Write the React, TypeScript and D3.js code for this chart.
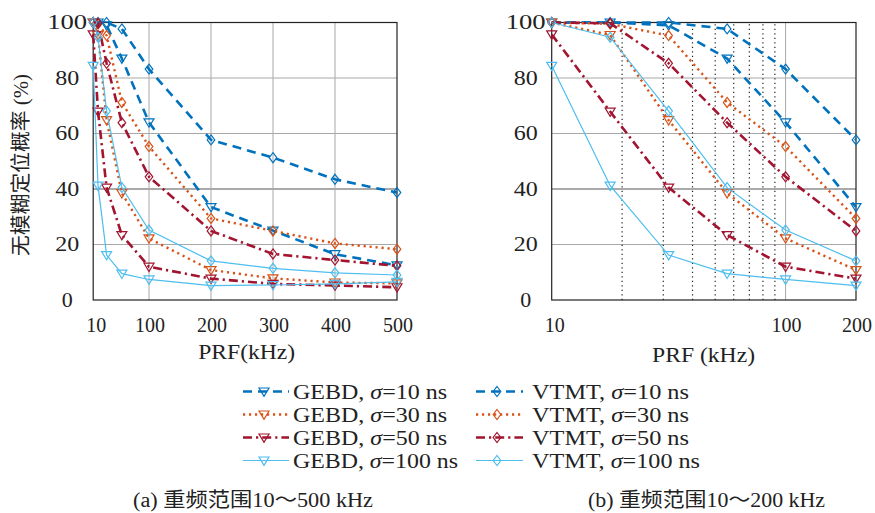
import React from "react";
import * as d3 from "d3";

const xVals = [10, 17.78, 31.62, 56.23, 100, 200, 300, 400, 500];
const gebd10 = [100, 100, 99, 87, 64, 33.5, 25, 16.5, 12.5];
const vtmt10 = [100, 100, 100, 97.7, 83.2, 57.7, 51.3, 43.5, 38.7];
const gebd30 = [100, 95.5, 64.8, 38.5, 22.2, 10.8, 7.8, 6.3, 6];
const vtmt30 = [100, 99.5, 95.3, 71.2, 55.3, 29.4, 24.9, 20.4, 18.3];
const gebd50 = [95.7, 67.9, 40.5, 23.4, 12, 7.7, 5.8, 5.2, 4.6];
const vtmt50 = [100, 99.7, 85.3, 63.9, 44.4, 24.9, 16.6, 14.4, 12.3];
const gebd100 = [84.4, 41.2, 16.2, 9.5, 7.4, 5.2, 5.4, 5.8, 6.5];
const vtmt100 = [100, 94.7, 68.1, 40.5, 25.2, 14.1, 11.4, 9.8, 9];

const yTicks = [0, 20, 40, 60, 80, 100];
const leftXTicks = [10, 100, 200, 300, 400, 500];
const rightXTicks = [10, 100, 200];
const rightMinor = [20, 30, 40, 50, 60, 70, 80, 90];

const sigmas = [10, 30, 50, 100];
const colors = ["#0072BD", "#D95319", "#A2142F", "#4DBEEE"];
const dashes = ["9,6", "2.2,3.8", "9,4,2.2,4", ""];
const widths = [2.6, 2.4, 2.6, 1.2];

const series = [
  { name: "GEBD", sigma: 0, marker: "tri", values: gebd10 },
  { name: "VTMT", sigma: 0, marker: "dia", values: vtmt10 },
  { name: "GEBD", sigma: 1, marker: "tri", values: gebd30 },
  { name: "VTMT", sigma: 1, marker: "dia", values: vtmt30 },
  { name: "GEBD", sigma: 2, marker: "tri", values: gebd50 },
  { name: "VTMT", sigma: 2, marker: "dia", values: vtmt50 },
  { name: "GEBD", sigma: 3, marker: "tri", values: gebd100 },
  { name: "VTMT", sigma: 3, marker: "dia", values: vtmt100 },
];

const FONT_STYLE = { fontFamily: "Liberation Serif, Noto Sans CJK SC, serif" };

function Marker({ type, x, y, color }: { type: string; x: number; y: number; color: string }) {
  if (type === "tri") {
    const p = `M${x - 5},${y - 3.5} L${x + 5},${y - 3.5} L${x},${y + 4.8} Z`;
    return <path d={p} fill="none" stroke={color} strokeWidth={1.2} />;
  }
  const p = `M${x},${y - 5} L${x + 3.8},${y} L${x},${y + 5} L${x - 3.8},${y} Z`;
  return <path d={p} fill="none" stroke={color} strokeWidth={1.2} />;
}

function Panel({ xScale, xMax, left }: { xScale: any; xMax: number; left: boolean }) {
  const y = d3.scaleLinear().domain([0, 100]).range([300, 22.5]);
  const [x0, x1] = xScale.range();
  const line = d3
    .line<[number, number]>()
    .x((d) => xScale(d[0]))
    .y((d) => y(d[1]));
  const xTicks = left ? leftXTicks : rightXTicks;
  return (
    <g>
      {yTicks
        .filter((t) => t > 0 && t < 100)
        .map((t) => (
          <line key={"h" + t} x1={x0} x2={x1} y1={y(t)} y2={y(t)} stroke={t === 40 ? "#555" : "#a8a8a8"} strokeWidth={1} />
        ))}
      {left
        ? xTicks
            .filter((t) => t > 10 && t < 500)
            .map((t) => (
              <line key={"v" + t} x1={xScale(t)} x2={xScale(t)} y1={y(0)} y2={y(100)} stroke="#a8a8a8" strokeWidth={1} />
            ))
        : [
            ...rightMinor.map((t) => (
              <line key={"m" + t} x1={xScale(t)} x2={xScale(t)} y1={y(0)} y2={y(100)} stroke="#222" strokeWidth={1.2} strokeDasharray="1.2,3.3" />
            )),
            <line key="v100" x1={xScale(100)} x2={xScale(100)} y1={y(0)} y2={y(100)} stroke="#a8a8a8" strokeWidth={1} />,
          ]}
      <rect x={x0} y={y(100)} width={x1 - x0} height={y(0) - y(100)} fill="none" stroke="#222" strokeWidth={1.2} />
      {yTicks.map((t) => (
        <text key={"yt" + t} x={x0 - 26} y={y(t) + 6.5} fontSize={20} style={FONT_STYLE} textAnchor="middle" textLength={t === 100 ? 40 : t === 0 ? 11 : 24} lengthAdjust="spacingAndGlyphs" fill="#222">
          {t}
        </text>
      ))}
      {xTicks.map((t) => (
        <text key={"xt" + t} x={xScale(t) + (t === 10 ? 3 : 1)} y={331.5} fontSize={20} style={FONT_STYLE} textAnchor="middle" fill="#222">
          {t}
        </text>
      ))}
      {series.map((s, i) => {
        const pts: [number, number][] = xVals
          .map((xv, j) => [xv, s.values[j]] as [number, number])
          .filter((d) => d[0] <= xMax);
        const c = colors[s.sigma];
        return (
          <g key={"s" + i}>
            <path d={line(pts) || ""} fill="none" stroke={c} strokeWidth={widths[s.sigma]} strokeDasharray={dashes[s.sigma] || undefined} />
            {pts.map((d, j) => (
              <Marker key={j} type={s.marker} x={xScale(d[0])} y={y(d[1])} color={c} />
            ))}
          </g>
        );
      })}
    </g>
  );
}

export default function App() {
  const xl = d3.scaleLinear().domain([10, 500]).range([93.2, 397]);
  const xr = d3.scaleLog().domain([10, 200]).range([551.7, 856]);
  const legendRows = [391.5, 414.5, 437.5, 460.5];
  const legendCols = [
    { x1: 243, x2: 289, mx: 264, tx: 293, name: "GEBD", marker: "tri", lens: [154, 154, 154, 165] },
    { x1: 476, x2: 523, mx: 497, tx: 532, name: "VTMT", marker: "dia", lens: [157, 157, 157, 168] },
  ];
  return (
    <svg width={875} height={513} style={{ position: "absolute", left: 0, top: 0, background: "#fff" }}>
      <rect x={0} y={0} width={875} height={513} fill="#fff" />
      <Panel xScale={xl} xMax={500} left={true} />
      <Panel xScale={xr} xMax={200} left={false} />
      <text transform="translate(28,165) rotate(-90)" fontSize={20} style={FONT_STYLE} textAnchor="middle" textLength={182} lengthAdjust="spacingAndGlyphs" fill="#222">
        无模糊定位概率 (%)
      </text>
      <text x={246.7} y={359} fontSize={20} style={FONT_STYLE} textAnchor="middle" textLength={97} lengthAdjust="spacingAndGlyphs" fill="#222">
        PRF(kHz)
      </text>
      <text x={703.5} y={362} fontSize={20} style={FONT_STYLE} textAnchor="middle" textLength={103} lengthAdjust="spacingAndGlyphs" fill="#222">
        PRF (kHz)
      </text>
      {legendCols.map((col, ci) =>
        sigmas.map((sg, ri) => {
          const yy = legendRows[ri];
          const c = colors[ri];
          return (
            <g key={"lg" + ci + ri}>
              <line x1={col.x1} x2={col.x2} y1={yy} y2={yy} stroke={c} strokeWidth={widths[ri]} strokeDasharray={dashes[ri] || undefined} />
              <Marker type={col.marker} x={col.mx} y={yy} color={c} />
              <text x={col.tx} y={yy + 7} fontSize={20} style={FONT_STYLE} textLength={col.lens[ri]} lengthAdjust="spacingAndGlyphs" fill="#222">
                {col.name}, <tspan fontStyle="italic">σ</tspan>={sg} ns
              </text>
            </g>
          );
        })
      )}
      <text x={253} y={507} fontSize={20} style={FONT_STYLE} textAnchor="middle" textLength={240} lengthAdjust="spacingAndGlyphs" fill="#222">
        (a) 重频范围10～500 kHz
      </text>
      <text x={706.5} y={507} fontSize={20} style={FONT_STYLE} textAnchor="middle" textLength={237} lengthAdjust="spacingAndGlyphs" fill="#222">
        (b) 重频范围10～200 kHz
      </text>
    </svg>
  );
}
